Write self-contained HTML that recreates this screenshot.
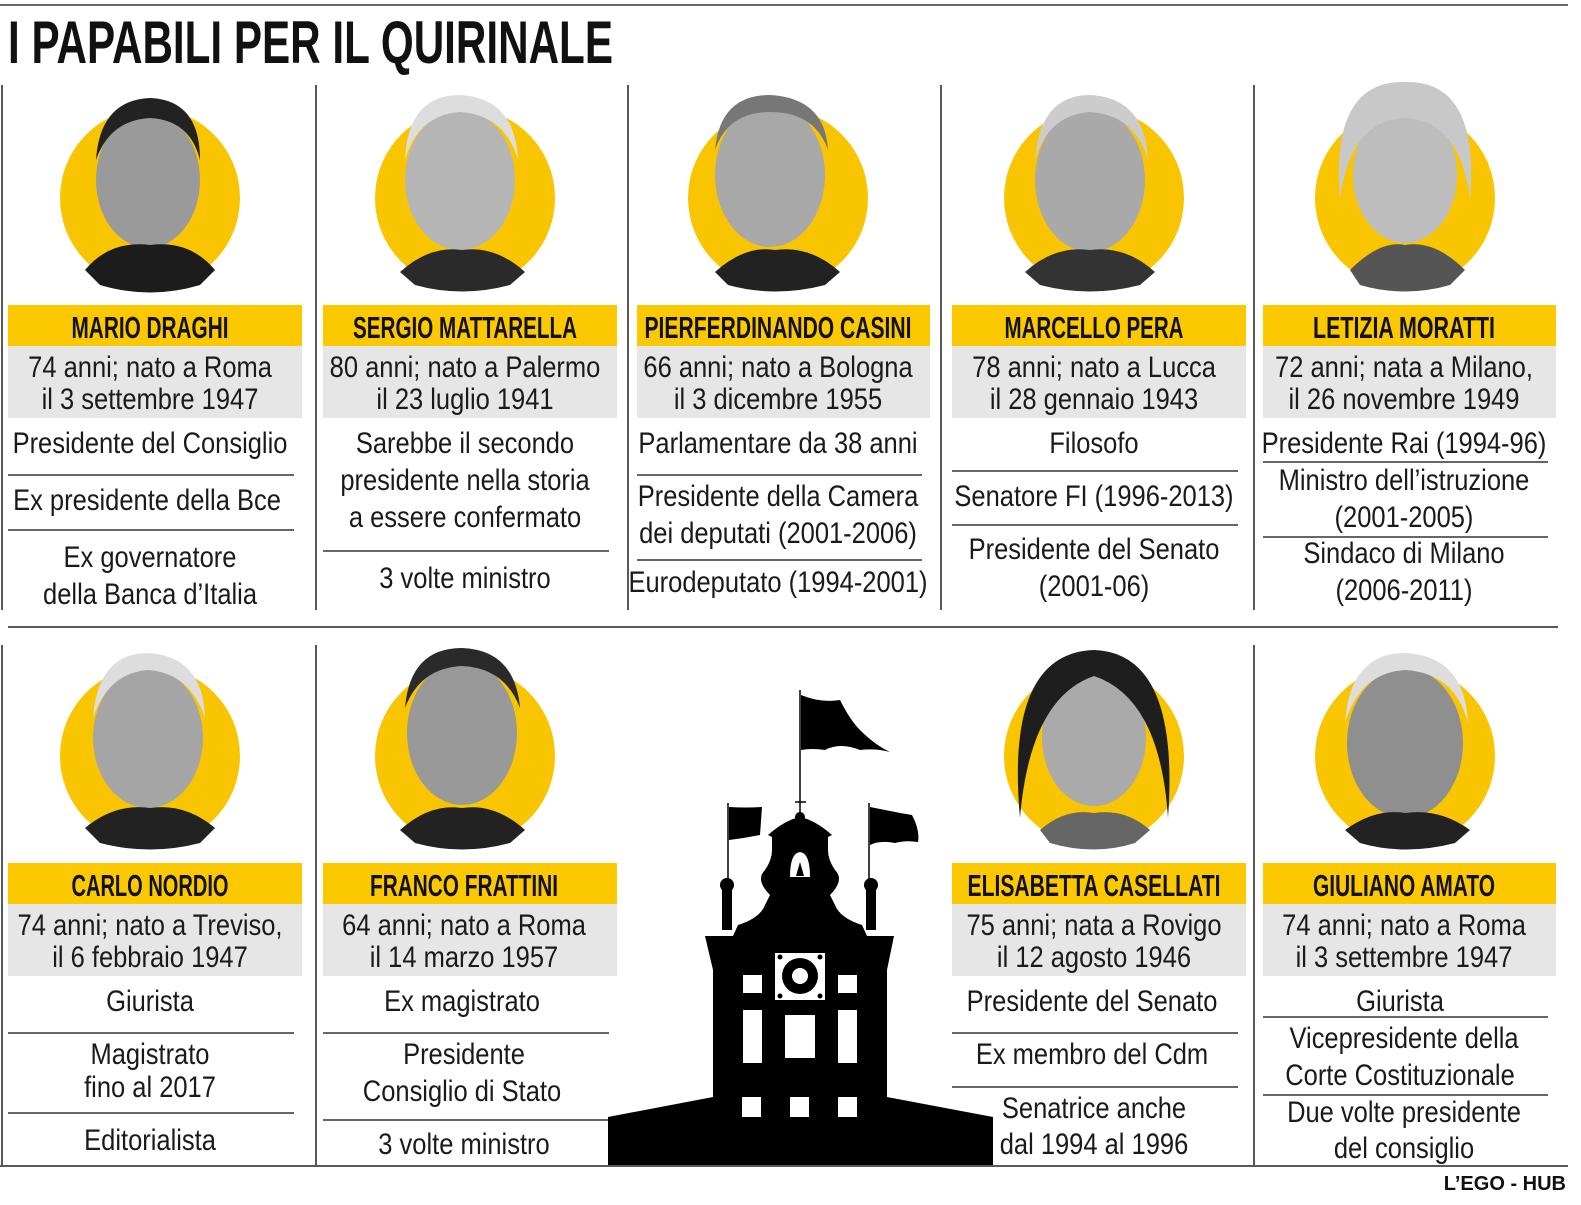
<!DOCTYPE html>
<html><head><meta charset="utf-8"><style>
html,body{margin:0;padding:0;background:#fff}
svg{display:block}
text{font-family:"Liberation Sans Narrow","Liberation Sans",sans-serif;fill:#1a1a1a}
.t{font-size:30px;text-anchor:middle;transform:scaleX(0.85);transform-box:fill-box;transform-origin:center}
.n{font-size:31px;font-weight:bold;text-anchor:middle;fill:#111}
</style></head><body>
<svg width="1581" height="1205" viewBox="0 0 1581 1205" xmlns="http://www.w3.org/2000/svg">
<line x1="0" y1="5" x2="1568" y2="5" stroke="#333" stroke-width="1.5"/>
<text x="8" y="63" style="font-size:60px;font-weight:bold;fill:#111" textLength="605" lengthAdjust="spacingAndGlyphs">I PAPABILI PER IL QUIRINALE</text>
<g stroke="#222" stroke-width="1.5">
<line x1="2" y1="85" x2="2" y2="610"/><line x1="316" y1="85" x2="316" y2="610"/><line x1="628" y1="85" x2="628" y2="610"/><line x1="941" y1="85" x2="941" y2="610"/><line x1="1254" y1="85" x2="1254" y2="610"/>
<line x1="8" y1="627" x2="1558" y2="627"/>
<line x1="2" y1="645" x2="2" y2="1165"/><line x1="316" y1="645" x2="316" y2="1165"/><line x1="1254" y1="645" x2="1254" y2="1165"/>
<line x1="0" y1="1166" x2="1568" y2="1166"/>
</g>
<g>
<g><circle cx="150" cy="198" r="90" fill="#f9c500"/><ellipse cx="148" cy="180" rx="52" ry="68" fill="#9a9a9a"/><path d="M96 160Q100 100 150 98Q200 100 200 160Q190 120 150 118Q110 120 96 160Z" fill="#222"/><path d="M85 270Q110 240 150 245Q190 240 215 270L200 285Q150 300 100 285Z" fill="#1c1c1c"/></g>
<g><circle cx="465" cy="198" r="90" fill="#f9c500"/><ellipse cx="460" cy="180" rx="55" ry="70" fill="#b5b5b5"/><path d="M405 160Q408 95 460 95Q515 98 518 160Q505 115 460 112Q418 115 405 160Z" fill="#ddd"/><path d="M400 272Q430 245 462 250Q495 245 525 272L510 285Q462 298 415 285Z" fill="#2a2a2a"/></g>
<g><circle cx="778" cy="198" r="90" fill="#f9c500"/><ellipse cx="770" cy="175" rx="55" ry="72" fill="#a8a8a8"/><path d="M715 150Q720 95 770 95Q825 98 828 150Q815 112 770 112Q728 112 715 150Z" fill="#777"/><path d="M715 272Q745 245 775 250Q810 245 840 272L825 285Q775 298 728 285Z" fill="#222"/></g>
<g><circle cx="1094" cy="198" r="90" fill="#f9c500"/><ellipse cx="1090" cy="180" rx="55" ry="72" fill="#a9a9a9"/><path d="M1035 160Q1040 95 1090 95Q1145 98 1148 160Q1135 115 1090 112Q1048 115 1035 160Z" fill="#ccc"/><path d="M1025 272Q1055 245 1090 250Q1125 245 1155 272L1140 285Q1090 298 1040 285Z" fill="#333"/></g>
<g><circle cx="1405" cy="198" r="90" fill="#f9c500"/><ellipse cx="1405" cy="175" rx="52" ry="68" fill="#bdbdbd"/><path d="M1340 200Q1330 80 1405 82Q1480 80 1470 200Q1460 120 1405 118Q1350 120 1340 200Z" fill="#c8c8c8"/><path d="M1350 270Q1380 240 1405 245Q1435 240 1465 270L1450 285Q1405 298 1360 285Z" fill="#555"/></g>
</g>
<g transform="translate(0,558)">
<g><circle cx="150" cy="198" r="90" fill="#f9c500"/><ellipse cx="148" cy="180" rx="55" ry="70" fill="#a5a5a5"/><path d="M93 160Q98 95 148 95Q203 98 205 160Q190 115 148 112Q108 115 93 160Z" fill="#ddd"/><path d="M85 270Q115 245 150 250Q185 245 215 270L200 285Q150 298 100 285Z" fill="#222"/></g>
<g><circle cx="465" cy="198" r="90" fill="#f9c500"/><ellipse cx="462" cy="175" rx="55" ry="72" fill="#999"/><path d="M405 150Q410 90 462 90Q515 92 520 150Q505 110 462 108Q420 110 405 150Z" fill="#2a2a2a"/><path d="M400 272Q430 245 462 250Q495 245 525 272L510 285Q462 298 415 285Z" fill="#222"/></g>
<g><circle cx="1094" cy="198" r="90" fill="#f9c500"/><ellipse cx="1094" cy="180" rx="52" ry="68" fill="#aaa"/><path d="M1020 260Q1005 95 1094 92Q1180 95 1168 260Q1160 140 1094 118Q1030 140 1020 260Z" fill="#1e1e1e"/><path d="M1040 272Q1065 250 1094 255Q1125 250 1150 272L1135 285Q1094 298 1050 285Z" fill="#666"/></g>
<g><circle cx="1405" cy="198" r="90" fill="#f9c500"/><ellipse cx="1405" cy="185" rx="58" ry="75" fill="#8f8f8f"/><path d="M1345 165Q1350 95 1405 95Q1465 98 1468 165Q1455 115 1405 112Q1360 115 1345 165Z" fill="#ddd"/><path d="M1345 272Q1375 250 1405 255Q1440 250 1470 272L1455 285Q1405 298 1360 285Z" fill="#222"/></g>
</g>
<g fill="#fcc800">
<rect x="8" y="305" width="294" height="41"/><rect x="323" y="305" width="294" height="41"/><rect x="637" y="305" width="293" height="41"/><rect x="952" y="305" width="294" height="41"/><rect x="1263" y="305" width="293" height="41"/>
<rect x="8" y="863" width="294" height="41"/><rect x="323" y="863" width="294" height="41"/><rect x="952" y="863" width="294" height="41"/><rect x="1263" y="863" width="293" height="41"/>
</g>
<g fill="#e6e6e6">
<rect x="8" y="346" width="294" height="72"/><rect x="323" y="346" width="294" height="72"/><rect x="637" y="346" width="293" height="72"/><rect x="952" y="346" width="294" height="72"/><rect x="1263" y="346" width="293" height="72"/>
<rect x="8" y="904" width="294" height="72"/><rect x="323" y="904" width="294" height="72"/><rect x="952" y="904" width="294" height="72"/><rect x="1263" y="904" width="293" height="72"/>
</g>
<g>
<text class="n" x="150" y="338" textLength="157" lengthAdjust="spacingAndGlyphs">MARIO DRAGHI</text>
<text class="n" x="465" y="338" textLength="224" lengthAdjust="spacingAndGlyphs">SERGIO MATTARELLA</text>
<text class="n" x="778" y="338" textLength="267" lengthAdjust="spacingAndGlyphs">PIERFERDINANDO CASINI</text>
<text class="n" x="1094" y="338" textLength="179" lengthAdjust="spacingAndGlyphs">MARCELLO PERA</text>
<text class="n" x="1404" y="338" textLength="182" lengthAdjust="spacingAndGlyphs">LETIZIA MORATTI</text>
<text class="n" x="150" y="896" textLength="157" lengthAdjust="spacingAndGlyphs">CARLO NORDIO</text>
<text class="n" x="464" y="896" textLength="188" lengthAdjust="spacingAndGlyphs">FRANCO FRATTINI</text>
<text class="n" x="1094" y="896" textLength="253" lengthAdjust="spacingAndGlyphs">ELISABETTA CASELLATI</text>
<text class="n" x="1404" y="896" textLength="182" lengthAdjust="spacingAndGlyphs">GIULIANO AMATO</text>
</g>
<g>
<text class="t" x="150" y="377">74 anni; nato a Roma</text><text class="t" x="150" y="409">il 3 settembre 1947</text>
<text class="t" x="150" y="453">Presidente del Consiglio</text>
<text class="t" x="147" y="510">Ex presidente della Bce</text>
<text class="t" x="150" y="567">Ex governatore</text><text class="t" x="150" y="604">della Banca d’Italia</text>

<text class="t" x="465" y="377">80 anni; nato a Palermo</text><text class="t" x="465" y="409">il 23 luglio 1941</text>
<text class="t" x="465" y="453">Sarebbe il secondo</text><text class="t" x="465" y="490">presidente nella storia</text><text class="t" x="465" y="527">a essere confermato</text>
<text class="t" x="465" y="588">3 volte ministro</text>

<text class="t" x="778" y="377">66 anni; nato a Bologna</text><text class="t" x="778" y="409">il 3 dicembre 1955</text>
<text class="t" x="778" y="453">Parlamentare da 38 anni</text>
<text class="t" x="778" y="506">Presidente della Camera</text><text class="t" x="778" y="543">dei deputati (2001-2006)</text>
<text class="t" x="778" y="592">Eurodeputato (1994-2001)</text>

<text class="t" x="1094" y="377">78 anni; nato a Lucca</text><text class="t" x="1094" y="409">il 28 gennaio 1943</text>
<text class="t" x="1094" y="453">Filosofo</text>
<text class="t" x="1094" y="506">Senatore FI (1996-2013)</text>
<text class="t" x="1094" y="559">Presidente del Senato</text><text class="t" x="1094" y="596">(2001-06)</text>

<text class="t" x="1404" y="377">72 anni; nata a Milano,</text><text class="t" x="1404" y="409">il 26 novembre 1949</text>
<text class="t" x="1404" y="453">Presidente Rai (1994-96)</text>
<text class="t" x="1404" y="490">Ministro dell’istruzione</text><text class="t" x="1404" y="527">(2001-2005)</text>
<text class="t" x="1404" y="563">Sindaco di Milano</text><text class="t" x="1404" y="600">(2006-2011)</text>

<text class="t" x="150" y="935">74 anni; nato a Treviso,</text><text class="t" x="150" y="967">il 6 febbraio 1947</text>
<text class="t" x="150" y="1011">Giurista</text>
<text class="t" x="150" y="1064">Magistrato</text><text class="t" x="150" y="1097">fino al 2017</text>
<text class="t" x="150" y="1150">Editorialista</text>

<text class="t" x="464" y="935">64 anni; nato a Roma</text><text class="t" x="464" y="967">il 14 marzo 1957</text>
<text class="t" x="462" y="1011">Ex magistrato</text>
<text class="t" x="464" y="1064">Presidente</text><text class="t" x="462" y="1101">Consiglio di Stato</text>
<text class="t" x="464" y="1154">3 volte ministro</text>

<text class="t" x="1094" y="935">75 anni; nata a Rovigo</text><text class="t" x="1094" y="967">il 12 agosto 1946</text>
<text class="t" x="1092" y="1011">Presidente del Senato</text>
<text class="t" x="1092" y="1064">Ex membro del Cdm</text>
<text class="t" x="1094" y="1118">Senatrice anche</text><text class="t" x="1094" y="1154">dal 1994 al 1996</text>

<text class="t" x="1404" y="935">74 anni; nato a Roma</text><text class="t" x="1404" y="967">il 3 settembre 1947</text>
<text class="t" x="1400" y="1011">Giurista</text>
<text class="t" x="1404" y="1048">Vicepresidente della</text><text class="t" x="1400" y="1085">Corte Costituzionale</text>
<text class="t" x="1404" y="1122">Due volte presidente</text><text class="t" x="1404" y="1158">del consiglio</text>
</g>
<g stroke="#333" stroke-width="1.5">
<line x1="8" y1="475" x2="294" y2="475"/><line x1="8" y1="530" x2="294" y2="530"/>
<line x1="323" y1="551" x2="609" y2="551"/>
<line x1="637" y1="475" x2="922" y2="475"/><line x1="637" y1="560" x2="922" y2="560"/>
<line x1="952" y1="471" x2="1238" y2="471"/><line x1="952" y1="525" x2="1238" y2="525"/>
<line x1="1263" y1="462" x2="1548" y2="462"/><line x1="1263" y1="537" x2="1548" y2="537"/>
<line x1="8" y1="1033" x2="294" y2="1033"/><line x1="8" y1="1113" x2="294" y2="1113"/>
<line x1="323" y1="1033" x2="609" y2="1033"/><line x1="323" y1="1120" x2="609" y2="1120"/>
<line x1="952" y1="1033" x2="1238" y2="1033"/><line x1="952" y1="1087" x2="1238" y2="1087"/>
<line x1="1263" y1="1017" x2="1548" y2="1017"/><line x1="1263" y1="1095" x2="1548" y2="1095"/>
</g>
<g fill="#000">
<path d="M608 1117L713 1097V970L705 936H733L738 925Q760 918 765 905L770 895Q755 880 765 870Q772 860 772 850V837L768 835Q785 820 800 817Q815 820 832 835L828 837V850Q828 860 835 870Q845 880 830 895L835 905Q840 918 862 925L867 936H894L887 970V1097L993 1117V1165H608Z"/>
<rect x="722" y="885" width="10" height="45"/><rect x="866" y="885" width="10" height="45"/>
<circle cx="727" cy="885" r="7"/><circle cx="871" cy="885" r="7"/>
<circle cx="800" cy="817" r="5"/>
</g>
<g stroke="#000" stroke-width="1.5">
<line x1="800" y1="690" x2="800" y2="815"/><line x1="728" y1="803" x2="728" y2="880"/><line x1="869" y1="803" x2="869" y2="880"/><line x1="795" y1="802" x2="806" y2="802"/>
</g>
<g fill="#000">
<path d="M801 695Q820 703 840 700Q850 720 860 730Q875 745 890 752Q875 748 860 750Q840 742 825 750Q812 748 801 750Z"/>
<path d="M729 807Q745 808 762 807L760 835Q745 838 729 840Z"/>
<path d="M870 807Q885 810 900 813L912 815Q920 830 918 842Q905 840 895 843Q880 840 870 845Z"/>
</g>
<g fill="#fff">
<path d="M790 877Q790 853 800 852Q810 853 810 877Z"/>
<rect x="775" y="953" width="50" height="47"/>
<rect x="743" y="975" width="19" height="18"/><rect x="838" y="975" width="19" height="18"/>
<rect x="743" y="1010" width="19" height="53"/><rect x="785" y="1015" width="30" height="43"/><rect x="838" y="1010" width="19" height="53"/>
<rect x="742" y="1097" width="19" height="20"/><rect x="790" y="1097" width="19" height="20"/><rect x="838" y="1097" width="19" height="20"/>
</g>
<path d="M796 876L800 862L804 876Z" fill="#000"/>
<circle cx="800" cy="976" r="18" fill="#000"/><circle cx="800" cy="976" r="8" fill="#fff"/>
<g fill="#000"><circle cx="780" cy="957" r="2.5"/><circle cx="820" cy="957" r="2.5"/><circle cx="780" cy="996" r="2.5"/><circle cx="820" cy="996" r="2.5"/></g>
<text x="1566" y="1190" style="font-family:'Liberation Sans',sans-serif;font-size:20px;font-weight:bold;text-anchor:end;fill:#111">L’EGO - HUB</text>
</svg>
</body></html>
